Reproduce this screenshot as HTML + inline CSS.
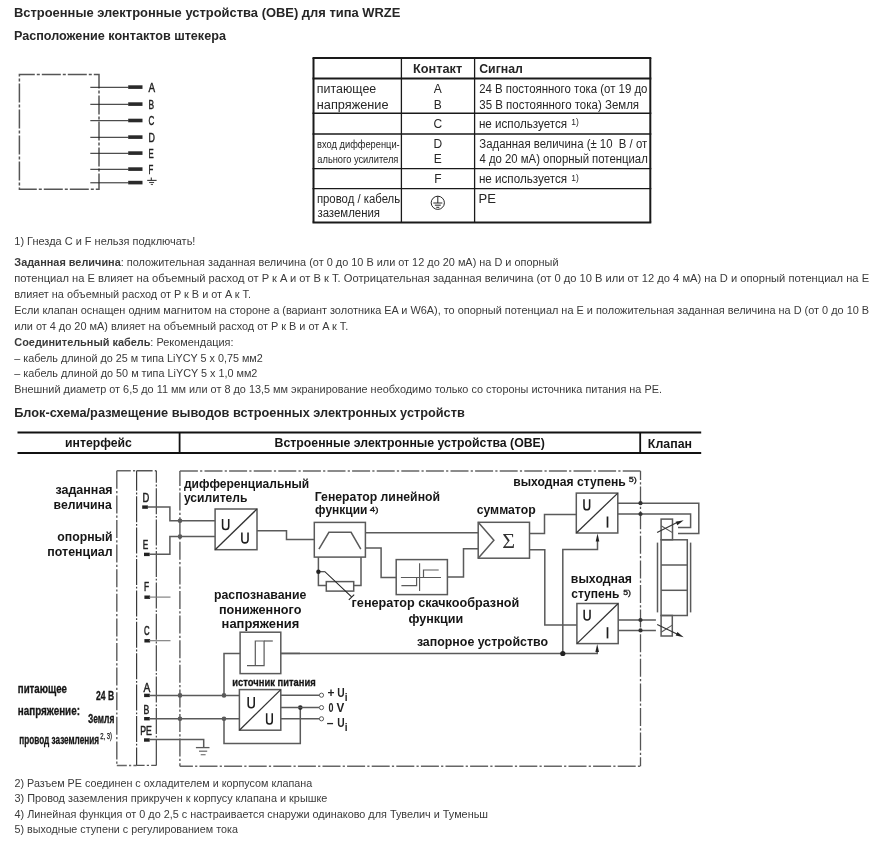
<!DOCTYPE html>
<html><head><meta charset="utf-8"><title>WRZE</title>
<style>
html,body{margin:0;padding:0;background:#fff;}
body{width:878px;height:856px;overflow:hidden;}
svg{display:block;will-change:transform;font-family:"Liberation Sans",sans-serif;}
.p{font-size:11px;fill:#3a3a3a;}
.d{font-size:13px;font-weight:bold;fill:#161616;}
</style></head><body>
<svg width="878" height="856" viewBox="0 0 878 856">
<rect width="878" height="856" fill="#fff"/>
<text x="13.94" y="16.5" textLength="386.47" lengthAdjust="spacingAndGlyphs" style="font-size:13px;font-weight:bold;fill:#262626" >Встроенные электронные устройства (OBE) для типа WRZE</text>
<text x="13.96" y="40" textLength="211.96" lengthAdjust="spacingAndGlyphs" style="font-size:12.5px;font-weight:bold;fill:#262626" >Расположение контактов штекера</text>
<rect x="19.4" y="74.6" width="79.6" height="114.6" stroke="#555" stroke-width="1.5" fill="none" stroke-dasharray="19 2 3 2" stroke-dashoffset="3.6"/>
<line x1="90.3" y1="87.3" x2="128.5" y2="87.3" stroke="#222" stroke-width="1"/>
<rect x="128.2" y="85.3" width="14.3" height="3.6" fill="#2a2a2a"/>
<text x="148.4" y="91.5" textLength="6.6" lengthAdjust="spacingAndGlyphs" style="font-size:12.5px;fill:#222" stroke="#222" stroke-width="0.45">A</text>
<line x1="90.3" y1="104.3" x2="128.5" y2="104.3" stroke="#222" stroke-width="1"/>
<rect x="128.2" y="102.3" width="14.3" height="3.6" fill="#2a2a2a"/>
<text x="148.4" y="108.5" textLength="5.6" lengthAdjust="spacingAndGlyphs" style="font-size:12.5px;fill:#222" stroke="#222" stroke-width="0.45">B</text>
<line x1="90.3" y1="120.7" x2="128.5" y2="120.7" stroke="#222" stroke-width="1"/>
<rect x="128.2" y="118.7" width="14.3" height="3.6" fill="#2a2a2a"/>
<text x="148.4" y="124.9" textLength="5.8" lengthAdjust="spacingAndGlyphs" style="font-size:12.5px;fill:#222" stroke="#222" stroke-width="0.45">C</text>
<line x1="90.3" y1="137.3" x2="128.5" y2="137.3" stroke="#222" stroke-width="1"/>
<rect x="128.2" y="135.3" width="14.3" height="3.6" fill="#2a2a2a"/>
<text x="148.4" y="141.5" textLength="6.4" lengthAdjust="spacingAndGlyphs" style="font-size:12.5px;fill:#222" stroke="#222" stroke-width="0.45">D</text>
<line x1="90.3" y1="153.3" x2="128.5" y2="153.3" stroke="#222" stroke-width="1"/>
<rect x="128.2" y="151.3" width="14.3" height="3.6" fill="#2a2a2a"/>
<text x="148.4" y="157.5" textLength="5.2" lengthAdjust="spacingAndGlyphs" style="font-size:12.5px;fill:#222" stroke="#222" stroke-width="0.45">E</text>
<line x1="90.3" y1="169.3" x2="128.5" y2="169.3" stroke="#222" stroke-width="1"/>
<rect x="128.2" y="167.3" width="14.3" height="3.6" fill="#2a2a2a"/>
<text x="148.4" y="173.5" textLength="4.8" lengthAdjust="spacingAndGlyphs" style="font-size:12.5px;fill:#222" stroke="#222" stroke-width="0.45">F</text>
<line x1="90.3" y1="182.8" x2="128.5" y2="182.8" stroke="#222" stroke-width="1"/>
<rect x="128.2" y="180.8" width="14.3" height="3.6" fill="#2a2a2a"/>
<line x1="151.3" y1="177.6" x2="151.3" y2="180.4" stroke="#333" stroke-width="1.1"/>
<line x1="147.2" y1="180.4" x2="156.6" y2="180.4" stroke="#333" stroke-width="1.1"/>
<line x1="149.1" y1="182.5" x2="154.1" y2="182.5" stroke="#444" stroke-width="1.1"/>
<line x1="150.8" y1="184.5" x2="153" y2="184.5" stroke="#555" stroke-width="1.1"/>
<line x1="312.5" y1="58" x2="651.3" y2="58" stroke="#1a1a1a" stroke-width="2"/>
<line x1="312.5" y1="78.6" x2="651.3" y2="78.6" stroke="#1a1a1a" stroke-width="2"/>
<line x1="312.5" y1="113.3" x2="651.3" y2="113.3" stroke="#1a1a1a" stroke-width="1.4"/>
<line x1="312.5" y1="134" x2="651.3" y2="134" stroke="#1a1a1a" stroke-width="1.4"/>
<line x1="312.5" y1="168.6" x2="651.3" y2="168.6" stroke="#1a1a1a" stroke-width="1.4"/>
<line x1="312.5" y1="188.6" x2="651.3" y2="188.6" stroke="#1a1a1a" stroke-width="1.4"/>
<line x1="312.5" y1="222.4" x2="651.3" y2="222.4" stroke="#1a1a1a" stroke-width="2"/>
<line x1="313.5" y1="58" x2="313.5" y2="222.4" stroke="#1a1a1a" stroke-width="2"/>
<line x1="650.3" y1="58" x2="650.3" y2="222.4" stroke="#1a1a1a" stroke-width="2"/>
<line x1="401.4" y1="58" x2="401.4" y2="222.4" stroke="#1a1a1a" stroke-width="1.3"/>
<line x1="474.6" y1="58" x2="474.6" y2="222.4" stroke="#1a1a1a" stroke-width="1.3"/>
<text x="413.05" y="73.3" textLength="49.1" lengthAdjust="spacingAndGlyphs" style="font-size:12px;font-weight:bold;fill:#262626" >Контакт</text>
<text x="479.2" y="73.4" textLength="43.66" lengthAdjust="spacingAndGlyphs" style="font-size:12px;font-weight:bold;fill:#262626" >Сигнал</text>
<text x="316.84" y="93.2" textLength="59.41" lengthAdjust="spacingAndGlyphs" style="font-size:12px;fill:#262626" >питающее</text>
<text x="316.82" y="108.5" textLength="71.75" lengthAdjust="spacingAndGlyphs" style="font-size:12px;fill:#262626" >напряжение</text>
<text x="437.8" y="93.3" text-anchor="middle" style="font-size:12px;fill:#262626" >A</text>
<text x="437.8" y="108.5" text-anchor="middle" style="font-size:12px;fill:#262626" >B</text>
<text x="437.8" y="128" text-anchor="middle" style="font-size:12px;fill:#262626" >C</text>
<text x="437.8" y="148" text-anchor="middle" style="font-size:12px;fill:#262626" >D</text>
<text x="437.8" y="163.2" text-anchor="middle" style="font-size:12px;fill:#262626" >E</text>
<text x="437.8" y="183" text-anchor="middle" style="font-size:12px;fill:#262626" >F</text>
<text x="479.13" y="93.4" textLength="168.35" lengthAdjust="spacingAndGlyphs" style="font-size:12px;fill:#262626" >24 В постоянного тока (от 19 до</text>
<text x="479.26" y="108.6" textLength="159.83" lengthAdjust="spacingAndGlyphs" style="font-size:12px;fill:#262626" >35 В постоянного тока) Земля</text>
<text x="478.9" y="128.2" textLength="88.2" lengthAdjust="spacingAndGlyphs" style="font-size:12px;fill:#262626" >не используется</text>
<text x="571.3" y="125.2" style="font-size:8.5px;fill:#262626" >1)</text>
<text x="479.33" y="148.2" textLength="167.86" lengthAdjust="spacingAndGlyphs" style="font-size:12px;fill:#262626" >Заданная величина (± 10&#160; В / от</text>
<text x="479.44" y="163.4" textLength="168.35" lengthAdjust="spacingAndGlyphs" style="font-size:12px;fill:#262626" >4 до 20 мА) опорный потенциал</text>
<text x="478.9" y="183.2" textLength="88.2" lengthAdjust="spacingAndGlyphs" style="font-size:12px;fill:#262626" >не используется</text>
<text x="571.3" y="180.6" style="font-size:8.5px;fill:#262626" >1)</text>
<text x="478.63" y="203.1" textLength="17.43" lengthAdjust="spacingAndGlyphs" style="font-size:12px;fill:#262626" >PE</text>
<text x="317.06" y="147.8" textLength="82.65" lengthAdjust="spacingAndGlyphs" style="font-size:11.5px;fill:#262626" >вход дифференци-</text>
<text x="317.31" y="163" textLength="81.03" lengthAdjust="spacingAndGlyphs" style="font-size:11.5px;fill:#262626" >ального усилителя</text>
<text x="316.92" y="203.4" textLength="83.24" lengthAdjust="spacingAndGlyphs" style="font-size:12px;fill:#262626" >провод / кабель</text>
<text x="317.43" y="217.2" textLength="62.56" lengthAdjust="spacingAndGlyphs" style="font-size:12px;fill:#262626" >заземления</text>
<circle cx="437.8" cy="202.8" r="6.6" fill="none" stroke="#262626" stroke-width="1"/>
<line x1="437.8" y1="196.2" x2="437.8" y2="203" stroke="#262626" stroke-width="1"/>
<line x1="433.3" y1="203" x2="442.3" y2="203" stroke="#262626" stroke-width="1"/>
<line x1="434.8" y1="205.2" x2="440.8" y2="205.2" stroke="#262626" stroke-width="1"/>
<line x1="436.3" y1="207.3" x2="439.3" y2="207.3" stroke="#262626" stroke-width="1"/>
<text x="14.3" y="244.5" textLength="181.1" lengthAdjust="spacingAndGlyphs" style="font-size:11px;fill:#3a3a3a" >1) Гнезда C и F нельзя подключать!</text>
<text x="14.3" y="266.1" textLength="544.2" lengthAdjust="spacingAndGlyphs" style="font-size:11px;fill:#3a3a3a" ><tspan font-weight="bold">Заданная величина</tspan>: положительная заданная величина (от 0 до 10 В или от 12 до 20 мА) на D и опорный</text>
<text x="14.3" y="282.0" textLength="854.8000000000001" lengthAdjust="spacingAndGlyphs" style="font-size:11px;fill:#3a3a3a" >потенциал на E влияет на объемный расход от P к A и от B к T. Оотрицательная заданная величина (от 0 до 10 В или от 12 до 4 мА) на D и опорный потенциал на E</text>
<text x="14.3" y="297.90000000000003" textLength="236.7" lengthAdjust="spacingAndGlyphs" style="font-size:11px;fill:#3a3a3a" >влияет на объемный расход от P к B и от A к T.</text>
<text x="14.3" y="313.8" textLength="854.8000000000001" lengthAdjust="spacingAndGlyphs" style="font-size:11px;fill:#3a3a3a" >Если клапан оснащен одним магнитом на стороне a (вариант золотника EA и W6A), то опорный потенциал на E и положительная заданная величина на D (от 0 до 10 B</text>
<text x="14.3" y="329.70000000000005" textLength="334.0" lengthAdjust="spacingAndGlyphs" style="font-size:11px;fill:#3a3a3a" >или от 4 до 20 мА) влияет на объемный расход от P к B и от A к T.</text>
<text x="14.3" y="345.6" textLength="219.2" lengthAdjust="spacingAndGlyphs" style="font-size:11px;fill:#3a3a3a" ><tspan font-weight="bold">Соединительный кабель</tspan>: Рекомендация:</text>
<text x="14.3" y="361.5" textLength="248.5" lengthAdjust="spacingAndGlyphs" style="font-size:11px;fill:#3a3a3a" >– кабель длиной до 25 м типа LiYCY 5 x 0,75 мм2</text>
<text x="14.3" y="377.40000000000003" textLength="243.1" lengthAdjust="spacingAndGlyphs" style="font-size:11px;fill:#3a3a3a" >– кабель длиной до 50 м типа LiYCY 5 x 1,0 мм2</text>
<text x="14.3" y="393.3" textLength="647.7" lengthAdjust="spacingAndGlyphs" style="font-size:11px;fill:#3a3a3a" >Внешний диаметр от 6,5 до 11 мм или от 8 до 13,5 мм экранирование необходимо только со стороны источника питания на PE.</text>
<text x="14.15" y="417.1" textLength="450.64" lengthAdjust="spacingAndGlyphs" style="font-size:12.7px;font-weight:bold;fill:#262626" >Блок-схема/размещение выводов встроенных электронных устройств</text>
<text x="14.5" y="786.8" textLength="297.8" lengthAdjust="spacingAndGlyphs" style="font-size:11px;fill:#3a3a3a" >2) Разъем PE соединен с охладителем и корпусом клапана</text>
<text x="14.5" y="802.3" textLength="312.9" lengthAdjust="spacingAndGlyphs" style="font-size:11px;fill:#3a3a3a" >3) Провод заземления прикручен к корпусу клапана и крышке</text>
<text x="14.5" y="817.8" textLength="473.5" lengthAdjust="spacingAndGlyphs" style="font-size:11px;fill:#3a3a3a" >4) Линейная функция от 0 до 2,5 с настраивается снаружи одинаково для Тувелич и Туменьш</text>
<text x="14.5" y="833.3" textLength="223.4" lengthAdjust="spacingAndGlyphs" style="font-size:11px;fill:#3a3a3a" >5) выходные ступени с регулированием тока</text>
<line x1="17.5" y1="432.5" x2="701.2" y2="432.5" stroke="#111" stroke-width="2"/>
<line x1="17.5" y1="453" x2="701.2" y2="453" stroke="#111" stroke-width="2"/>
<line x1="179.6" y1="432.5" x2="179.6" y2="453" stroke="#111" stroke-width="1.8"/>
<line x1="640.2" y1="432.5" x2="640.2" y2="453" stroke="#111" stroke-width="1.8"/>
<text x="65.05" y="447.2" textLength="66.8" lengthAdjust="spacingAndGlyphs" style="font-size:12px;font-weight:bold;fill:#161616" >интерфейс</text>
<text x="274.58" y="447.2" textLength="270.33" lengthAdjust="spacingAndGlyphs" style="font-size:12px;font-weight:bold;fill:#161616" >Встроенные электронные устройства (OBE)</text>
<text x="647.87" y="447.7" textLength="44.19" lengthAdjust="spacingAndGlyphs" style="font-size:12px;font-weight:bold;fill:#161616" >Клапан</text>
<line x1="116.8" y1="470.8" x2="116.8" y2="765.4" stroke="#666" stroke-width="1.5" stroke-dasharray="18 2.2 2.2 2.2" stroke-dashoffset="0"/>
<line x1="116.8" y1="470.8" x2="136.6" y2="470.8" stroke="#666" stroke-width="1.5" stroke-dasharray="18 2.2 2.2 2.2" stroke-dashoffset="4"/>
<line x1="116.8" y1="765.4" x2="136.6" y2="765.4" stroke="#666" stroke-width="1.5" stroke-dasharray="18 2.2 2.2 2.2" stroke-dashoffset="8"/>
<line x1="136.6" y1="470.8" x2="136.6" y2="765.4" stroke="#3a3a3a" stroke-width="1.2" stroke-dasharray="26 1.8 1.8 1.8" stroke-dashoffset="6"/>
<line x1="136.6" y1="470.8" x2="156.3" y2="470.8" stroke="#555" stroke-width="1.4" stroke-dasharray="18 2.2 2.2 2.2" stroke-dashoffset="2"/>
<line x1="136.6" y1="765.4" x2="156.3" y2="765.4" stroke="#555" stroke-width="1.4" stroke-dasharray="18 2.2 2.2 2.2" stroke-dashoffset="10"/>
<line x1="156.3" y1="470.8" x2="156.3" y2="765.4" stroke="#333" stroke-width="1.1" stroke-dasharray="26 1.8 1.8 1.8" stroke-dashoffset="14"/>
<line x1="179.9" y1="471" x2="179.9" y2="766.3" stroke="#666" stroke-width="1.5" stroke-dasharray="18 2.2 2.2 2.2" stroke-dashoffset="3"/>
<line x1="640.5" y1="471" x2="640.5" y2="766.3" stroke="#555" stroke-width="1.3" stroke-dasharray="18 2.2 2.2 2.2" stroke-dashoffset="9"/>
<line x1="179.9" y1="471" x2="640.5" y2="471" stroke="#666" stroke-width="1.5" stroke-dasharray="18 2.2 2.2 2.2" stroke-dashoffset="0"/>
<line x1="179.9" y1="766.3" x2="640.5" y2="766.3" stroke="#666" stroke-width="1.5" stroke-dasharray="18 2.2 2.2 2.2" stroke-dashoffset="5"/>
<text x="55.38" y="493.9" textLength="57.29" lengthAdjust="spacingAndGlyphs" style="font-size:13px;font-weight:bold;fill:#161616" >заданная</text>
<text x="53.55" y="508.7" textLength="58.17" lengthAdjust="spacingAndGlyphs" style="font-size:13px;font-weight:bold;fill:#161616" >величина</text>
<text x="57.32" y="541.1" textLength="55.33" lengthAdjust="spacingAndGlyphs" style="font-size:13px;font-weight:bold;fill:#161616" >опорный</text>
<text x="47.34" y="556.4" textLength="65.33" lengthAdjust="spacingAndGlyphs" style="font-size:13px;font-weight:bold;fill:#161616" >потенциал</text>
<text x="142.5" y="501.7" textLength="6.8" lengthAdjust="spacingAndGlyphs" style="font-size:12.3px;fill:#222" stroke="#222" stroke-width="0.5">D</text>
<text x="142.8" y="548.6" textLength="5.5" lengthAdjust="spacingAndGlyphs" style="font-size:12.3px;fill:#222" stroke="#222" stroke-width="0.5">E</text>
<text x="144.1" y="590.6" textLength="5.1" lengthAdjust="spacingAndGlyphs" style="font-size:12.3px;fill:#222" stroke="#222" stroke-width="0.5">F</text>
<text x="144" y="634.5" textLength="5.6" lengthAdjust="spacingAndGlyphs" style="font-size:12.3px;fill:#222" stroke="#222" stroke-width="0.5">C</text>
<text x="143.4" y="691.6" textLength="6.8" lengthAdjust="spacingAndGlyphs" style="font-size:12.3px;fill:#222" stroke="#222" stroke-width="0.5">A</text>
<text x="143.5" y="713.7" textLength="5.8" lengthAdjust="spacingAndGlyphs" style="font-size:12.3px;fill:#222" stroke="#222" stroke-width="0.5">B</text>
<text x="140.3" y="734.5" textLength="11.6" lengthAdjust="spacingAndGlyphs" style="font-size:12.3px;fill:#222" stroke="#222" stroke-width="0.5">PE</text>
<rect x="142.2" y="505.4" width="5.7" height="3.4" fill="#222"/>
<rect x="144" y="552.6999999999999" width="5.7" height="3.4" fill="#222"/>
<rect x="144.4" y="595.5" width="5.7" height="3.4" fill="#222"/>
<rect x="144.4" y="639.1" width="5.7" height="3.4" fill="#222"/>
<rect x="144.1" y="693.6999999999999" width="5.7" height="3.4" fill="#222"/>
<rect x="144.1" y="717.0" width="5.7" height="3.4" fill="#222"/>
<rect x="144" y="738.3" width="5.7" height="3.4" fill="#222"/>
<path d="M147.8,507.0 L169.9,507.0 L169.9,520.7 L215.1,520.7" stroke="#5a5a5a" stroke-width="1.5" fill="none"/>
<path d="M149,554.3 L169.9,554.3 L169.9,536.6 L215.1,536.6" stroke="#5a5a5a" stroke-width="1.5" fill="none"/>
<line x1="149" y1="597.1" x2="170.5" y2="597.1" stroke="#777" stroke-width="1.1"/>
<line x1="149" y1="640.7" x2="170.5" y2="640.7" stroke="#777" stroke-width="1.1"/>
<line x1="149" y1="695.4" x2="239.3" y2="695.4" stroke="#5a5a5a" stroke-width="1.5"/>
<line x1="149" y1="718.7" x2="239.3" y2="718.7" stroke="#5a5a5a" stroke-width="1.5"/>
<path d="M149,739.5 L203.7,739.5 L203.7,747.6" stroke="#5a5a5a" stroke-width="1.5" fill="none"/>
<line x1="195.9" y1="747.6" x2="209.5" y2="747.6" stroke="#5a5a5a" stroke-width="1.3"/>
<line x1="199" y1="751.2" x2="207.2" y2="751.2" stroke="#666" stroke-width="1.2"/>
<line x1="200.7" y1="754.7" x2="205.6" y2="754.7" stroke="#777" stroke-width="1.2"/>
<circle cx="180" cy="520.7" r="2.3" fill="#5a5a5a"/>
<circle cx="180" cy="536.6" r="2.3" fill="#5a5a5a"/>
<circle cx="180" cy="695.4" r="2.3" fill="#5a5a5a"/>
<circle cx="180" cy="718.7" r="2.3" fill="#5a5a5a"/>
<circle cx="224" cy="695.4" r="2.3" fill="#5a5a5a"/>
<circle cx="224" cy="718.7" r="2.3" fill="#5a5a5a"/>
<path d="M224,695.4 L224,653.4 L240.1,653.4" stroke="#5a5a5a" stroke-width="1.5" fill="none"/>
<path d="M224,718.7 L224,743.4 L300.3,743.4 L300.3,707.6" stroke="#5a5a5a" stroke-width="1.5" fill="none"/>
<circle cx="300.3" cy="707.6" r="2.3" fill="#222"/>
<rect x="215.1" y="509" width="41.9" height="40.7" stroke="#5a5a5a" stroke-width="1.5" fill="none"/>
<line x1="215.1" y1="549.7" x2="257" y2="509" stroke="#333" stroke-width="1.3"/>
<path d="M222.58,518.9 V526.45 A3.07,3.07 0 0 0 228.72,526.45 V518.9" stroke="#1e1e1e" stroke-width="1.55" fill="none"/>
<path d="M241.88,532.6 V539.95 A3.08,3.08 0 0 0 248.03,539.95 V532.6" stroke="#1e1e1e" stroke-width="1.55" fill="none"/>
<text x="183.92" y="488" textLength="125.31" lengthAdjust="spacingAndGlyphs" style="font-size:13px;font-weight:bold;fill:#161616" >дифференциальный</text>
<text x="183.91" y="501.5" textLength="63.59" lengthAdjust="spacingAndGlyphs" style="font-size:13px;font-weight:bold;fill:#161616" >усилитель</text>
<path d="M257,530.7 L286.5,530.7 L286.5,539.5 L314.3,539.5" stroke="#5a5a5a" stroke-width="1.5" fill="none"/>
<rect x="314.3" y="522.4" width="51.1" height="34.7" stroke="#5a5a5a" stroke-width="1.5" fill="none"/>
<path d="M318.9,549.2 L328.9,532.3 L351.1,532.3 L360.8,549.2" stroke="#5a5a5a" stroke-width="1.5" fill="none"/>
<text x="314.79" y="500.7" textLength="125.26" lengthAdjust="spacingAndGlyphs" style="font-size:13px;font-weight:bold;fill:#161616" >Генератор линейной</text>
<text x="315.12" y="514.3" textLength="52.31" lengthAdjust="spacingAndGlyphs" style="font-size:13px;font-weight:bold;fill:#161616" >функции</text>
<text x="369.78" y="511.8" textLength="8.62" lengthAdjust="spacingAndGlyphs" style="font-size:7.5px;fill:#161616" stroke="#161616" stroke-width="0.3">4)</text>
<line x1="365.4" y1="532.7" x2="478.2" y2="532.7" stroke="#5a5a5a" stroke-width="1.5"/>
<path d="M365.4,548 L381.1,548 L381.1,577.4 L396.2,577.4" stroke="#5a5a5a" stroke-width="1.5" fill="none"/>
<path d="M318.4,557.1 L318.4,585.6 L326.3,585.6" stroke="#5a5a5a" stroke-width="1.5" fill="none"/>
<path d="M361,557.1 L361,585.6 L353.7,585.6" stroke="#5a5a5a" stroke-width="1.5" fill="none"/>
<rect x="326.3" y="581.6" width="27.4" height="9.5" stroke="#5a5a5a" stroke-width="1.5" fill="none"/>
<circle cx="318.4" cy="571.7" r="2.2" fill="#222"/>
<path d="M318.4,571.7 L324.9,571.7 L351.6,596.9" stroke="#222" stroke-width="1.1" fill="none"/>
<line x1="348.8" y1="599.9" x2="354.2" y2="594.6" stroke="#222" stroke-width="1.1"/>
<rect x="396.2" y="559.6" width="51.2" height="35" stroke="#5a5a5a" stroke-width="1.5" fill="none"/>
<line x1="419.6" y1="563.2" x2="419.6" y2="591" stroke="#555" stroke-width="1.1"/>
<line x1="400.9" y1="577.5" x2="441" y2="577.5" stroke="#5a5a5a" stroke-width="1.2"/>
<path d="M401.4,585.7 L416.6,585.7 L416.6,577.5" stroke="#5a5a5a" stroke-width="1.2" fill="none"/>
<path d="M423.5,577.5 L423.5,570 L438.7,570" stroke="#5a5a5a" stroke-width="1.2" fill="none"/>
<path d="M447.4,577 L463.5,577 L463.5,548.8 L478.2,548.8" stroke="#5a5a5a" stroke-width="1.5" fill="none"/>
<text x="351.62" y="607" textLength="167.65" lengthAdjust="spacingAndGlyphs" style="font-size:13px;font-weight:bold;fill:#161616" >генератор скачкообразной</text>
<text x="408.4" y="622.6" textLength="54.77" lengthAdjust="spacingAndGlyphs" style="font-size:13px;font-weight:bold;fill:#161616" >функции</text>
<rect x="478.2" y="522.3" width="51.3" height="35.9" stroke="#5a5a5a" stroke-width="1.5" fill="none"/>
<path d="M478.2,522.3 L493.9,540.3 L478.2,558.2" stroke="#5a5a5a" stroke-width="1.5" fill="none"/>
<text x="508.6" y="548.4" text-anchor="middle" style="font-size:22px;fill:#333;font-family:'Liberation Serif',serif" >Σ</text>
<text x="476.63" y="513.8" textLength="59.07" lengthAdjust="spacingAndGlyphs" style="font-size:13px;font-weight:bold;fill:#161616" >сумматор</text>
<path d="M529.5,533.5 L544.5,533.5 L544.5,514.6 L576.3,514.6" stroke="#5a5a5a" stroke-width="1.5" fill="none"/>
<path d="M529.5,549.7 L544.8,549.7 L544.8,624.9 L576.9,624.9" stroke="#5a5a5a" stroke-width="1.5" fill="none"/>
<rect x="576.3" y="493.1" width="41.5" height="39.9" stroke="#5a5a5a" stroke-width="1.5" fill="none"/>
<line x1="576.3" y1="533" x2="617.8" y2="493.1" stroke="#333" stroke-width="1.3"/>
<path d="M583.98,499.3 V507.00 A2.82,2.82 0 0 0 589.62,507.00 V499.3" stroke="#1e1e1e" stroke-width="1.55" fill="none"/>
<line x1="607.5" y1="516.5" x2="607.5" y2="527.6" stroke="#1e1e1e" stroke-width="1.7"/>
<text x="513.25" y="485.6" textLength="112.45" lengthAdjust="spacingAndGlyphs" style="font-size:13px;font-weight:bold;fill:#161616" >выходная ступень</text>
<text x="628.84" y="481.6" textLength="8.02" lengthAdjust="spacingAndGlyphs" style="font-size:7.5px;fill:#161616" stroke="#161616" stroke-width="0.3">5)</text>
<path d="M562.8,653.6 L562.8,549.6 L597.5,549.6 L597.5,540" stroke="#5a5a5a" stroke-width="1.5" fill="none"/>
<path d="M597.5,533.5 L595.7,541.5 L599.3,541.5 Z" fill="#222"/>
<rect x="576.9" y="603.5" width="41.3" height="40.1" stroke="#5a5a5a" stroke-width="1.5" fill="none"/>
<line x1="576.9" y1="643.6" x2="618.2" y2="603.5" stroke="#333" stroke-width="1.3"/>
<path d="M584.17,609.8 V617.30 A2.93,2.93 0 0 0 590.02,617.30 V609.8" stroke="#1e1e1e" stroke-width="1.55" fill="none"/>
<line x1="607.5" y1="627.2" x2="607.5" y2="638.4" stroke="#1e1e1e" stroke-width="1.7"/>
<text x="570.85" y="582.5" textLength="61.1" lengthAdjust="spacingAndGlyphs" style="font-size:13px;font-weight:bold;fill:#161616" >выходная</text>
<text x="571.23" y="597.6" textLength="48.07" lengthAdjust="spacingAndGlyphs" style="font-size:13px;font-weight:bold;fill:#161616" >ступень</text>
<text x="623.25" y="595.4" textLength="7.79" lengthAdjust="spacingAndGlyphs" style="font-size:7.5px;fill:#161616" stroke="#161616" stroke-width="0.3">5)</text>
<path d="M280.8,653.4 L597.2,653.4 L597.2,650" stroke="#5a5a5a" stroke-width="1.5" fill="none"/>
<path d="M597.2,644 L595.4,652 L599,652 Z" fill="#222"/>
<circle cx="562.8" cy="653.5" r="2.6" fill="#222"/>
<text x="416.88" y="645.6" textLength="131.1" lengthAdjust="spacingAndGlyphs" style="font-size:13px;font-weight:bold;fill:#161616" >запорное устройство</text>
<rect x="240.1" y="632.2" width="40.7" height="41.4" stroke="#5a5a5a" stroke-width="1.5" fill="none"/>
<path d="M247,665.7 L264.1,665.7 L264.1,641 L255.3,641 L255.3,665.7" stroke="#5a5a5a" stroke-width="1.2" fill="none"/>
<line x1="264.1" y1="641" x2="272.8" y2="641" stroke="#5a5a5a" stroke-width="1.2"/>
<text x="213.99" y="598.8" textLength="92.33" lengthAdjust="spacingAndGlyphs" style="font-size:13px;font-weight:bold;fill:#161616" >распознавание</text>
<text x="218.92" y="614.1" textLength="82.47" lengthAdjust="spacingAndGlyphs" style="font-size:13px;font-weight:bold;fill:#161616" >пониженного</text>
<text x="221.6" y="628.2" textLength="77.7" lengthAdjust="spacingAndGlyphs" style="font-size:13px;font-weight:bold;fill:#161616" >напряжения</text>
<rect x="239.4" y="689.6" width="41.4" height="40.6" stroke="#5a5a5a" stroke-width="1.5" fill="none"/>
<line x1="239.4" y1="730.2" x2="280.8" y2="689.6" stroke="#333" stroke-width="1.3"/>
<path d="M248.18,697.1 V704.80 A3.02,3.02 0 0 0 254.22,704.80 V697.1" stroke="#1e1e1e" stroke-width="1.55" fill="none"/>
<path d="M266.67,713.3 V721.15 A2.78,2.78 0 0 0 272.23,721.15 V713.3" stroke="#1e1e1e" stroke-width="1.55" fill="none"/>
<text x="232.35" y="685.9" textLength="83.4" lengthAdjust="spacingAndGlyphs" style="font-size:11.5px;font-weight:bold;fill:#161616" stroke="#161616" stroke-width="0.3">источник питания</text>
<line x1="280.8" y1="695.2" x2="319.3" y2="695.2" stroke="#5a5a5a" stroke-width="1.5"/>
<line x1="280.8" y1="707.6" x2="319.3" y2="707.6" stroke="#5a5a5a" stroke-width="1.5"/>
<line x1="280.8" y1="718.8" x2="319.3" y2="718.8" stroke="#5a5a5a" stroke-width="1.5"/>
<circle cx="321.5" cy="695.2" r="2.1" fill="#fff" stroke="#5a5a5a" stroke-width="1"/>
<circle cx="321.5" cy="707.6" r="2.1" fill="#fff" stroke="#5a5a5a" stroke-width="1"/>
<circle cx="321.5" cy="718.8" r="2.1" fill="#fff" stroke="#5a5a5a" stroke-width="1"/>
<text x="327.6" y="696.8" style="font-size:12px;font-weight:bold;fill:#222" >+</text>
<text x="337.2" y="696.8" textLength="7.4" lengthAdjust="spacingAndGlyphs" style="font-size:12.5px;font-weight:bold;fill:#222" >U</text>
<text x="344.8" y="700.5" style="font-size:10px;font-weight:bold;fill:#222" >i</text>
<text x="328.4" y="711.9" textLength="5" lengthAdjust="spacingAndGlyphs" style="font-size:12.5px;font-weight:bold;fill:#222" >0</text>
<text x="336.4" y="711.9" textLength="7.8" lengthAdjust="spacingAndGlyphs" style="font-size:12.5px;font-weight:bold;fill:#222" >V</text>
<text x="326.8" y="727.1" style="font-size:12px;font-weight:bold;fill:#222" >–</text>
<text x="337.2" y="727.1" textLength="7.4" lengthAdjust="spacingAndGlyphs" style="font-size:12.5px;font-weight:bold;fill:#222" >U</text>
<text x="344.8" y="730.8" style="font-size:10px;font-weight:bold;fill:#222" >i</text>
<line x1="280.8" y1="653.4" x2="300" y2="653.4" stroke="#5a5a5a" stroke-width="1.5"/>
<text x="17.82" y="692.8" textLength="49.11" lengthAdjust="spacingAndGlyphs" style="font-size:12px;font-weight:bold;fill:#161616" stroke="#161616" stroke-width="0.3">питающее</text>
<text x="17.81" y="715.3" textLength="62.13" lengthAdjust="spacingAndGlyphs" style="font-size:12px;font-weight:bold;fill:#161616" stroke="#161616" stroke-width="0.3">напряжение:</text>
<text x="19.33" y="744" textLength="79.63" lengthAdjust="spacingAndGlyphs" style="font-size:12px;font-weight:bold;fill:#161616" stroke="#161616" stroke-width="0.3">провод заземления</text>
<text x="100.2" y="739.2" textLength="11.87" lengthAdjust="spacingAndGlyphs" style="font-size:8.5px;fill:#161616" stroke="#161616" stroke-width="0.25">2, 3)</text>
<text x="96.1" y="700" textLength="18.09" lengthAdjust="spacingAndGlyphs" style="font-size:12px;font-weight:bold;fill:#161616" stroke="#161616" stroke-width="0.3">24 В</text>
<text x="88.01" y="722.5" textLength="26.37" lengthAdjust="spacingAndGlyphs" style="font-size:12px;font-weight:bold;fill:#161616" stroke="#161616" stroke-width="0.3">Земля</text>
<path d="M617.8,503.2 L698.8,503.2 L698.8,533.4 L678,533.4" stroke="#5a5a5a" stroke-width="1.5" fill="none"/>
<path d="M617.8,514 L690.6,514 L690.6,527.6 L678,527.6" stroke="#5a5a5a" stroke-width="1.5" fill="none"/>
<line x1="618.2" y1="620" x2="655.9" y2="620" stroke="#5a5a5a" stroke-width="1.5"/>
<line x1="618.2" y1="630.4" x2="655.9" y2="630.4" stroke="#5a5a5a" stroke-width="1.5"/>
<circle cx="640.5" cy="503.2" r="2.1" fill="#333"/>
<circle cx="640.5" cy="514" r="2.1" fill="#333"/>
<circle cx="640.5" cy="620" r="2.1" fill="#333"/>
<circle cx="640.5" cy="630.4" r="2.1" fill="#333"/>
<rect x="661.1" y="519.1" width="11.4" height="20.6" stroke="#5a5a5a" stroke-width="1.5" fill="none"/>
<rect x="661.1" y="539.8" width="26.2" height="75.7" stroke="#5a5a5a" stroke-width="1.5" fill="none"/>
<line x1="661.1" y1="565" x2="687.3" y2="565" stroke="#5a5a5a" stroke-width="1.5"/>
<line x1="661.1" y1="590.3" x2="687.3" y2="590.3" stroke="#5a5a5a" stroke-width="1.5"/>
<line x1="657.5" y1="542.6" x2="657.5" y2="612.4" stroke="#5a5a5a" stroke-width="1.5"/>
<line x1="690.6" y1="542.6" x2="690.6" y2="612.4" stroke="#5a5a5a" stroke-width="1.5"/>
<rect x="661.1" y="615.5" width="11.2" height="20.5" stroke="#5a5a5a" stroke-width="1.5" fill="none"/>
<line x1="661.1" y1="525.8" x2="672.5" y2="532.6" stroke="#5a5a5a" stroke-width="1.1"/>
<line x1="657.1" y1="532.6" x2="678" y2="521.9" stroke="#333" stroke-width="1.1"/>
<path d="M683.7,520.2 L675.6,521.7 L677.4,525.2 Z" fill="#222"/>
<line x1="661.1" y1="632.3" x2="672.3" y2="625.1" stroke="#5a5a5a" stroke-width="1.1"/>
<line x1="657.2" y1="624.4" x2="678" y2="634.6" stroke="#333" stroke-width="1.1"/>
<path d="M683.7,637.2 L677.4,632.0 L675.7,635.6 Z" fill="#222"/>
</svg>
</body></html>
